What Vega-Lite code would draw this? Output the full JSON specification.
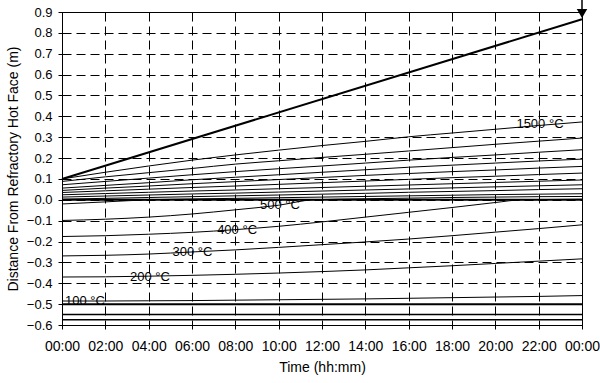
{
"$schema": "https://vega.github.io/schema/vega-lite/v6.json",
"width": 520, "height": 313,
"autosize": {"type": "none"},
"padding": {"left": 62, "top": 12, "right": 18, "bottom": 58},
"background": "white",
"config": {
  "view": {"stroke": "black", "strokeWidth": 1},
  "axis": {"domainColor": "black", "tickColor": "black", "labelColor": "black", "titleColor": "black", "labelFont": "Liberation Sans", "titleFont": "Liberation Sans", "titleFontWeight": "normal", "gridColor": "black", "gridDash": [9, 5], "gridOpacity": 1, "gridWidth": 1, "tickSize": 4, "labelFontSize": 13, "titleFontSize": 14, "labelOverlap": false, "labelFlush": false}
},
"datasets": {
  "iso": [
    {"series":"1500","t":0,"v":0.100},{"series":"1500","t":2,"v":0.132},{"series":"1500","t":4,"v":0.162},{"series":"1500","t":6,"v":0.190},{"series":"1500","t":8,"v":0.215},{"series":"1500","t":10,"v":0.238},{"series":"1500","t":12,"v":0.260},{"series":"1500","t":14,"v":0.280},{"series":"1500","t":16,"v":0.302},{"series":"1500","t":18,"v":0.320},{"series":"1500","t":20,"v":0.338},{"series":"1500","t":22,"v":0.356},{"series":"1500","t":24,"v":0.373},
    {"series":"1400","t":0,"v":0.088},{"series":"1400","t":2,"v":0.110},{"series":"1400","t":4,"v":0.130},{"series":"1400","t":6,"v":0.150},{"series":"1400","t":8,"v":0.171},{"series":"1400","t":10,"v":0.187},{"series":"1400","t":12,"v":0.203},{"series":"1400","t":14,"v":0.218},{"series":"1400","t":16,"v":0.234},{"series":"1400","t":18,"v":0.250},{"series":"1400","t":20,"v":0.266},{"series":"1400","t":22,"v":0.281},{"series":"1400","t":24,"v":0.296},
    {"series":"1300","t":0,"v":0.072},{"series":"1300","t":2,"v":0.088},{"series":"1300","t":4,"v":0.104},{"series":"1300","t":6,"v":0.120},{"series":"1300","t":8,"v":0.135},{"series":"1300","t":10,"v":0.149},{"series":"1300","t":12,"v":0.162},{"series":"1300","t":14,"v":0.176},{"series":"1300","t":16,"v":0.190},{"series":"1300","t":18,"v":0.203},{"series":"1300","t":20,"v":0.215},{"series":"1300","t":22,"v":0.228},{"series":"1300","t":24,"v":0.240},
    {"series":"1200","t":0,"v":0.056},{"series":"1200","t":2,"v":0.069},{"series":"1200","t":4,"v":0.082},{"series":"1200","t":6,"v":0.096},{"series":"1200","t":8,"v":0.108},{"series":"1200","t":10,"v":0.120},{"series":"1200","t":12,"v":0.132},{"series":"1200","t":14,"v":0.144},{"series":"1200","t":16,"v":0.156},{"series":"1200","t":18,"v":0.166},{"series":"1200","t":20,"v":0.176},{"series":"1200","t":22,"v":0.186},{"series":"1200","t":24,"v":0.195},
    {"series":"1100","t":0,"v":0.045},{"series":"1100","t":2,"v":0.056},{"series":"1100","t":4,"v":0.066},{"series":"1100","t":6,"v":0.077},{"series":"1100","t":8,"v":0.087},{"series":"1100","t":10,"v":0.097},{"series":"1100","t":12,"v":0.107},{"series":"1100","t":14,"v":0.117},{"series":"1100","t":16,"v":0.126},{"series":"1100","t":18,"v":0.135},{"series":"1100","t":20,"v":0.143},{"series":"1100","t":22,"v":0.152},{"series":"1100","t":24,"v":0.160},
    {"series":"1000","t":0,"v":0.035},{"series":"1000","t":2,"v":0.043},{"series":"1000","t":4,"v":0.051},{"series":"1000","t":6,"v":0.059},{"series":"1000","t":8,"v":0.066},{"series":"1000","t":10,"v":0.074},{"series":"1000","t":12,"v":0.082},{"series":"1000","t":14,"v":0.090},{"series":"1000","t":16,"v":0.098},{"series":"1000","t":18,"v":0.106},{"series":"1000","t":20,"v":0.113},{"series":"1000","t":22,"v":0.121},{"series":"1000","t":24,"v":0.128},
    {"series":"900","t":0,"v":0.024},{"series":"900","t":2,"v":0.030},{"series":"900","t":4,"v":0.036},{"series":"900","t":6,"v":0.042},{"series":"900","t":8,"v":0.047},{"series":"900","t":10,"v":0.053},{"series":"900","t":12,"v":0.059},{"series":"900","t":14,"v":0.065},{"series":"900","t":16,"v":0.071},{"series":"900","t":18,"v":0.077},{"series":"900","t":20,"v":0.083},{"series":"900","t":22,"v":0.089},{"series":"900","t":24,"v":0.095},
    {"series":"800","t":0,"v":0.013},{"series":"800","t":2,"v":0.018},{"series":"800","t":4,"v":0.023},{"series":"800","t":6,"v":0.028},{"series":"800","t":8,"v":0.032},{"series":"800","t":10,"v":0.037},{"series":"800","t":12,"v":0.042},{"series":"800","t":14,"v":0.047},{"series":"800","t":16,"v":0.052},{"series":"800","t":18,"v":0.057},{"series":"800","t":20,"v":0.062},{"series":"800","t":22,"v":0.067},{"series":"800","t":24,"v":0.072},
    {"series":"700","t":0,"v":0.003},{"series":"700","t":2,"v":0.007},{"series":"700","t":4,"v":0.011},{"series":"700","t":6,"v":0.015},{"series":"700","t":8,"v":0.019},{"series":"700","t":10,"v":0.023},{"series":"700","t":12,"v":0.027},{"series":"700","t":14,"v":0.031},{"series":"700","t":16,"v":0.036},{"series":"700","t":18,"v":0.040},{"series":"700","t":20,"v":0.044},{"series":"700","t":22,"v":0.049},{"series":"700","t":24,"v":0.053},
    {"series":"600","t":0,"v":-0.020},{"series":"600","t":2,"v":-0.010},{"series":"600","t":4,"v":0.000},{"series":"600","t":6,"v":0.004},{"series":"600","t":8,"v":0.007},{"series":"600","t":10,"v":0.010},{"series":"600","t":12,"v":0.013},{"series":"600","t":14,"v":0.016},{"series":"600","t":16,"v":0.019},{"series":"600","t":18,"v":0.022},{"series":"600","t":20,"v":0.025},{"series":"600","t":22,"v":0.027},{"series":"600","t":24,"v":0.029},
    {"series":"500","t":0,"v":-0.099},{"series":"500","t":2,"v":-0.093},{"series":"500","t":4,"v":-0.083},{"series":"500","t":6,"v":-0.068},{"series":"500","t":8,"v":-0.048},{"series":"500","t":10,"v":-0.026},{"series":"500","t":11.6,"v":0.000},{"series":"500","t":14,"v":0.005},{"series":"500","t":16,"v":0.008},{"series":"500","t":18,"v":0.011},{"series":"500","t":20,"v":0.013},{"series":"500","t":22,"v":0.015},{"series":"500","t":24,"v":0.016},
    {"series":"400","t":0,"v":-0.176},{"series":"400","t":2,"v":-0.172},{"series":"400","t":4,"v":-0.165},{"series":"400","t":6,"v":-0.156},{"series":"400","t":8,"v":-0.143},{"series":"400","t":10,"v":-0.127},{"series":"400","t":12,"v":-0.106},{"series":"400","t":14,"v":-0.083},{"series":"400","t":16,"v":-0.060},{"series":"400","t":18,"v":-0.037},{"series":"400","t":20,"v":-0.013},{"series":"400","t":21.2,"v":0.000},{"series":"400","t":22,"v":0.001},{"series":"400","t":24,"v":0.003},
    {"series":"300","t":0,"v":-0.269},{"series":"300","t":2,"v":-0.266},{"series":"300","t":4,"v":-0.260},{"series":"300","t":6,"v":-0.250},{"series":"300","t":8,"v":-0.240},{"series":"300","t":10,"v":-0.228},{"series":"300","t":12,"v":-0.215},{"series":"300","t":14,"v":-0.202},{"series":"300","t":16,"v":-0.188},{"series":"300","t":18,"v":-0.172},{"series":"300","t":20,"v":-0.155},{"series":"300","t":22,"v":-0.138},{"series":"300","t":24,"v":-0.120},
    {"series":"200","t":0,"v":-0.370},{"series":"200","t":2,"v":-0.369},{"series":"200","t":4,"v":-0.366},{"series":"200","t":6,"v":-0.362},{"series":"200","t":8,"v":-0.357},{"series":"200","t":10,"v":-0.351},{"series":"200","t":12,"v":-0.344},{"series":"200","t":14,"v":-0.336},{"series":"200","t":16,"v":-0.326},{"series":"200","t":18,"v":-0.316},{"series":"200","t":20,"v":-0.305},{"series":"200","t":22,"v":-0.294},{"series":"200","t":24,"v":-0.283},
    {"series":"100","t":0,"v":-0.485},{"series":"100","t":2,"v":-0.485},{"series":"100","t":4,"v":-0.484},{"series":"100","t":6,"v":-0.483},{"series":"100","t":8,"v":-0.481},{"series":"100","t":10,"v":-0.479},{"series":"100","t":12,"v":-0.477},{"series":"100","t":14,"v":-0.475},{"series":"100","t":16,"v":-0.472},{"series":"100","t":18,"v":-0.469},{"series":"100","t":20,"v":-0.466},{"series":"100","t":22,"v":-0.463},{"series":"100","t":24,"v":-0.459}
  ],
  "front": [{"t":0,"v":0.100},{"t":24,"v":0.865}],
  "levels": [{"v":0,"kind":"heavy"},{"v":-0.5,"kind":"heavy"},{"v":-0.55,"kind":"light"},{"v":-0.575,"kind":"light"}],
  "labels": [
    {"t":22.06,"v":0.365,"label":"1500 °C"},
    {"t":10.06,"v":-0.024,"label":"500 °C"},
    {"t":8.08,"v":-0.146,"label":"400 °C"},
    {"t":6.02,"v":-0.252,"label":"300 °C"},
    {"t":4.06,"v":-0.372,"label":"200 °C"},
    {"t":1.06,"v":-0.487,"label":"100 °C"}
  ],
  "arrow": [{"t":24,"v":0.9,"v2":0.958,"head":0.893}]
},
"layer": [
  {
    "data": {"name": "iso"},
    "mark": {"type": "line", "color": "black", "strokeWidth": 1, "interpolate": "monotone"},
    "encoding": {
      "x": {"field": "t", "type": "quantitative", "scale": {"domain": [0, 24], "nice": false, "zero": false},
        "axis": {"values": [0,2,4,6,8,10,12,14,16,18,20,22,24], "tickCount": 13, "labelExpr": "(datum.value % 24 < 10 ? '0' : '') + (datum.value % 24) + ':00'", "title": "Time (hh:mm)", "labelFontSize": 14, "labelPadding": 10, "titlePadding": 7, "labelOverlap": false, "labelFlush": false}},
      "y": {"field": "v", "type": "quantitative", "scale": {"domain": [-0.6, 0.9], "nice": false, "zero": false},
        "axis": {"values": [-0.6,-0.5,-0.4,-0.3,-0.2,-0.1,0,0.1,0.2,0.3,0.4,0.5,0.6,0.7,0.8,0.9], "tickCount": 16, "format": ".1f", "title": "Distance From Refractory Hot Face (m)", "labelPadding": 6, "titlePadding": 6, "labelOverlap": false, "labelFlush": false}},
      "detail": {"field": "series"}
    }
  },
  {
    "data": {"name": "front"},
    "mark": {"type": "line", "color": "black", "strokeWidth": 2},
    "encoding": {"x": {"field": "t", "type": "quantitative"}, "y": {"field": "v", "type": "quantitative"}}
  },
  {
    "data": {"name": "levels"},
    "transform": [{"filter": "datum.kind == 'heavy'"}],
    "mark": {"type": "rule", "color": "black", "strokeWidth": 2},
    "encoding": {"y": {"field": "v", "type": "quantitative"}}
  },
  {
    "data": {"name": "levels"},
    "transform": [{"filter": "datum.kind == 'light'"}],
    "mark": {"type": "rule", "color": "black", "strokeWidth": 1.5},
    "encoding": {"y": {"field": "v", "type": "quantitative"}}
  },
  {
    "data": {"name": "labels"},
    "mark": {"type": "text", "font": "Liberation Sans", "fontSize": 13, "color": "black", "align": "center", "baseline": "middle"},
    "encoding": {"x": {"field": "t", "type": "quantitative"}, "y": {"field": "v", "type": "quantitative"}, "text": {"field": "label"}}
  },
  {
    "data": {"name": "arrow"},
    "mark": {"type": "rule", "color": "black", "strokeWidth": 1.5},
    "encoding": {"x": {"field": "t", "type": "quantitative"}, "y": {"field": "v", "type": "quantitative"}, "y2": {"field": "v2"}}
  },
  {
    "data": {"name": "arrow"},
    "mark": {"type": "point", "shape": "triangle-down", "filled": true, "color": "black", "opacity": 1, "size": 110},
    "encoding": {"x": {"field": "t", "type": "quantitative"}, "y": {"field": "head", "type": "quantitative"}}
  }
]
}
